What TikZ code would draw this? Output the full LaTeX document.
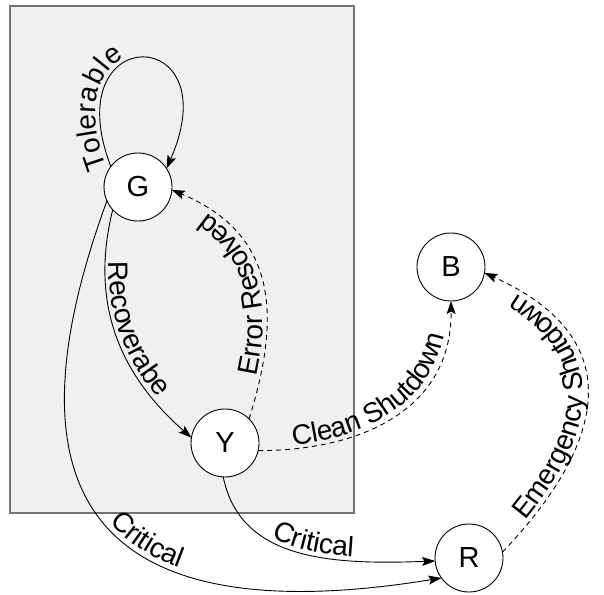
\documentclass[tikz,border=0pt]{standalone}
\usepackage{fontspec}
\setmainfont{Liberation Sans}
\usetikzlibrary{arrows.meta,decorations.text}
\newcommand\edgelabelfont{\fontsize{28}{28}\selectfont}
\begin{document}
\begin{tikzpicture}[x=1pt,y=-1pt,
  state/.style={circle,draw=black,line width=0.9pt,fill=white,minimum size=68pt,
    inner sep=0pt,outer sep=0pt,font=\fontsize{29}{29}\selectfont},
  trans/.style={line width=0.9pt,-{Stealth[length=13pt,width=9pt,inset=2.5pt]}},
  dashtrans/.style={trans,dash pattern=on 5pt off 4pt},
  curvedlabel/.style={postaction={decorate,decoration={text along path,
    text={|\edgelabelfont|#1},text align=center,raise=4pt}}},
  startlabel/.style 2 args={postaction={decorate,decoration={text along path,
    text={|\edgelabelfont|#2},text align={left indent=#1},raise=4pt}}},
  group/.style={draw=black!55,fill=black!6,line width=1.2pt},
]
\useasboundingbox (0,0) rectangle (604,594);

% grouping panel behind the normal-operation states
\draw[group] (10,6) rectangle (354,513);

% states
\node[state] (G) at (138,187) {G};
\node[state] (Y) at (225,443) {Y};
\node[state] (B) at (451,267) {B};
\node[state] (R) at (469,558) {R};

% transitions
\draw[trans,startlabel={0pt}{Tolerable}]
  (G.143) .. controls +(-56,-146) and +(64,-146) .. (G.33);
\draw[trans,curvedlabel=Recoverabe]
  (G.222) .. controls +(-25,100) and +(-66,-58) .. (Y.171);
\draw[dashtrans,curvedlabel=Error Resolved]
  (Y.45) .. controls +(31,-99) and +(108,45) .. (G.355);
\draw[dashtrans,curvedlabel=Clean Shutdown]
  (Y.347) .. controls +(102,0) and +(1,109) .. (B.270);
\draw[trans,curvedlabel=Critical]
  (Y.267) .. controls +(17,83) and +(-105,4) .. (R.185);
\draw[trans,startlabel={340pt}{Critical}]
  (G.204) .. controls +(-96,262) and +(-381,62) .. (R.216);
\draw[dashtrans,curvedlabel=Emergency Shutdown]
  (R.10) .. controls +(88,-92) and +(160,72) .. (B.350);
\end{tikzpicture}
\end{document}
